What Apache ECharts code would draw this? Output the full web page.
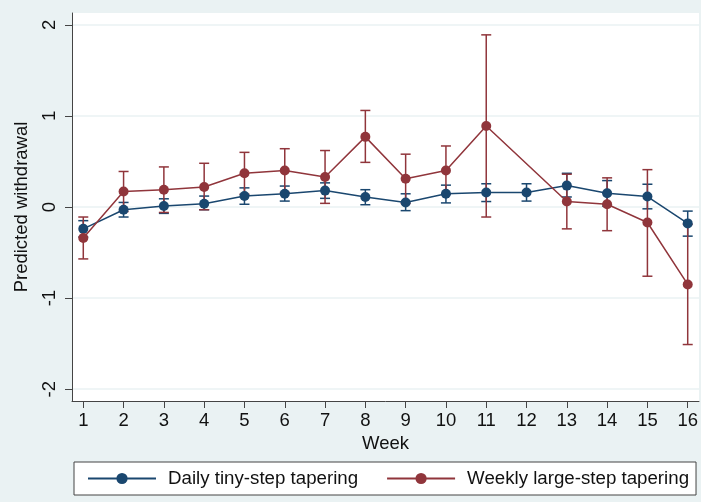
<!DOCTYPE html>
<html>
<head>
<meta charset="utf-8">
<script src="https://cdn.jsdelivr.net/npm/echarts@6/dist/echarts.min.js"></script>
<style>
html,body{margin:0;padding:0;background:#EAF2F3;}
#chart{width:701px;height:502px;}
</style>
</head>
<body>
<div id="chart"></div>
<script>
var weeks = [1,2,3,4,5,6,7,8,9,10,11,12,13,14,15,16];
var yTicks = [-2,-1,0,1,2];

var dailyMean = [-0.24,-0.03,0.01,0.035,0.12,0.145,0.18,0.11,0.05,0.145,0.16,0.16,0.235,0.15,0.115,-0.18];
var dailyLo   = [-0.33,-0.11,-0.07,-0.03,0.03,0.065,0.095,0.025,-0.04,0.045,0.06,0.065,0.11,0.01,-0.02,-0.32];
var dailyHi   = [-0.15,0.05,0.09,0.12,0.21,0.23,0.265,0.19,0.145,0.24,0.255,0.255,0.37,0.29,0.25,-0.045];

var weeklyMean = [-0.34,0.17,0.19,0.22,0.37,0.40,0.33,0.77,0.31,0.40,0.89,null,0.06,0.03,-0.17,-0.85];
var weeklyLo   = [-0.57,-0.05,-0.06,-0.03,0.14,0.16,0.04,0.49,0.04,0.14,-0.11,null,-0.24,-0.26,-0.76,-1.51];
var weeklyHi   = [-0.11,0.39,0.44,0.48,0.60,0.64,0.62,1.06,0.58,0.67,1.89,null,0.36,0.32,0.41,-0.19];

var BLUE = '#1A476F';
var RED = '#90353B';
var FONT = 'Liberation Sans, Arial, sans-serif';

function ciData(lo, hi) {
  var out = [];
  for (var i = 0; i < weeks.length; i++) {
    if (lo[i] === null || hi[i] === null) continue;
    out.push([weeks[i], lo[i], hi[i]]);
  }
  return out;
}
function lineData(m) {
  return weeks.map(function (w, i) { return [w, m[i]]; });
}
function ciRender(color) {
  return function (params, api) {
    var x = api.value(0);
    var p1 = api.coord([x, api.value(1)]);
    var p2 = api.coord([x, api.value(2)]);
    var hw = 5;
    var st = { stroke: color, lineWidth: 1.5 };
    return {
      type: 'group',
      children: [
        { type: 'line', shape: { x1: p1[0], y1: p1[1], x2: p2[0], y2: p2[1] }, style: st },
        { type: 'line', shape: { x1: p1[0] - hw, y1: p1[1], x2: p1[0] + hw, y2: p1[1] }, style: st },
        { type: 'line', shape: { x1: p2[0] - hw, y1: p2[1], x2: p2[0] + hw, y2: p2[1] }, style: st }
      ]
    };
  };
}

var chart = echarts.init(document.getElementById('chart'), null, { renderer: 'canvas' });
chart.setOption({
  backgroundColor: '#EAF2F3',
  animation: false,
  textStyle: { fontFamily: FONT, color: '#111' },
  grid: {
    left: 72, top: 13, right: 2, bottom: 101,
    show: true, backgroundColor: '#ffffff', borderWidth: 0
  },
  legend: {
    left: 74, top: 462,
    backgroundColor: '#ffffff',
    borderColor: '#444', borderWidth: 1,
    padding: [7, 7, 7, 13],
    itemWidth: 68, itemHeight: 14, itemGap: 28,
    textStyle: { fontFamily: FONT, fontSize: 18.7, color: '#111', padding: [0, 0, 0, 7] },
    data: ['Daily tiny-step tapering', 'Weekly large-step tapering']
  },
  xAxis: {
    type: 'value', min: 0.72, max: 16.28,
    name: 'Week', nameLocation: 'middle', nameGap: 30,
    nameTextStyle: { fontFamily: FONT, fontSize: 18.5, color: '#111' },
    axisLine: { show: true, onZero: false, lineStyle: { color: '#444', width: 1 } },
    axisTick: { show: true, inside: false, length: 7, lineStyle: { color: '#444' }, customValues: weeks },
    axisLabel: { fontFamily: FONT, fontSize: 18.5, color: '#111', margin: 10, customValues: weeks },
    splitLine: { show: false }
  },
  yAxis: {
    type: 'value', min: -2.13, max: 2.13,
    name: 'Predicted withdrawal', nameLocation: 'middle', nameGap: 41,
    nameTextStyle: { fontFamily: FONT, fontSize: 18.5, color: '#111' },
    axisLine: { show: true, onZero: false, lineStyle: { color: '#444', width: 1 } },
    axisTick: { show: true, inside: false, length: 7, lineStyle: { color: '#444' }, customValues: yTicks },
    axisLabel: { fontFamily: FONT, fontSize: 18.5, color: '#111', rotate: 90, margin: 13, customValues: yTicks },
    splitLine: { show: true, lineStyle: { color: '#EAF2F3', width: 1.5 } }
  },
  series: [
    {
      type: 'custom', name: 'ci1', z: 1, clip: false,
      renderItem: ciRender(BLUE), encode: { x: 0, y: [1, 2] },
      data: ciData(dailyLo, dailyHi), silent: true
    },
    {
      type: 'custom', name: 'ci2', z: 1, clip: false,
      renderItem: ciRender(RED), encode: { x: 0, y: [1, 2] },
      data: ciData(weeklyLo, weeklyHi), silent: true
    },
    {
      type: 'line', name: 'Daily tiny-step tapering', z: 2,
      data: lineData(dailyMean),
      symbol: 'circle', symbolSize: 10, showAllSymbol: true,
      itemStyle: { color: BLUE }, lineStyle: { color: BLUE, width: 1.5 }
    },
    {
      type: 'line', name: 'Weekly large-step tapering', z: 3,
      data: lineData(weeklyMean), connectNulls: true,
      symbol: 'circle', symbolSize: 10, showAllSymbol: true,
      itemStyle: { color: RED }, lineStyle: { color: RED, width: 1.5 }
    }
  ]
});
</script>
</body>
</html>
